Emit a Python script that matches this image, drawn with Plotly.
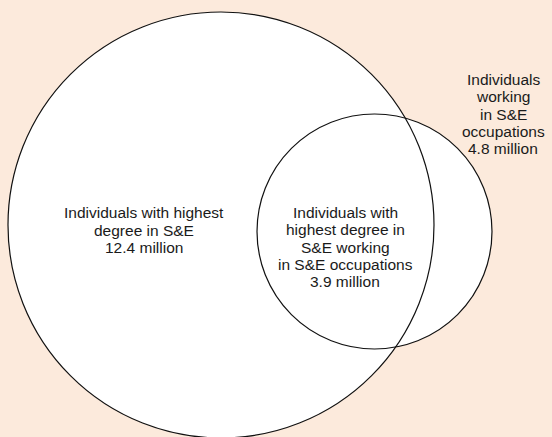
import plotly.graph_objects as go

# ---------------- data ----------------
set_names = [
    "Individuals with highest degree in S&E",
    "Individuals working in S&E occupations",
    "Individuals with highest degree in S&E working in S&E occupations",
]
set_values_million = [12.4, 4.8, 3.9]
label_text_lines = [
    ["Individuals with highest", "degree in S&E"],
    ["Individuals", "working", "in S&E", "occupations"],
    ["Individuals with", "highest degree in", "S&E working", "in S&E occupations"],
]

# ---------------- layout constants (pixels) ----------------
W, H = 552, 437
BG = "#FCEADC"
LINE = "#111111"
TEXT = "#1a1a1a"
FONT = "Liberation Sans, Arial, sans-serif"
FSIZE = 15.5
LINE_STEP = 17.4

# circle geometry: (cx, cy, r)  -> big set, small set
circles = [(221, 225, 213), (374.5, 231.5, 117.5)]
# label block centres (cx, cy)
label_centres = [(144, 230), (503, 114), (345, 247)]

fig = go.Figure()

shapes = []
# fills first
for cx, cy, r in circles:
    shapes.append(dict(type="circle", xref="x", yref="y",
                       x0=cx - r, x1=cx + r, y0=cy - r, y1=cy + r,
                       fillcolor="white", line=dict(width=0), layer="below"))
# outlines on top of fills
for cx, cy, r in circles:
    shapes.append(dict(type="circle", xref="x", yref="y",
                       x0=cx - r, x1=cx + r, y0=cy - r, y1=cy + r,
                       fillcolor="rgba(0,0,0,0)", line=dict(width=1.2, color=LINE),
                       layer="below"))

annotations = []
for lines, val, (cx, cy) in zip(label_text_lines, set_values_million, label_centres):
    all_lines = lines + [f"{val} million"]
    n = len(all_lines)
    for i, t in enumerate(all_lines):
        y = cy + (i - (n - 1) / 2) * LINE_STEP
        annotations.append(dict(x=cx, y=y, xref="x", yref="y", text=t,
                                showarrow=False, xanchor="center", yanchor="middle",
                                borderpad=0,
                                font=dict(family=FONT, size=FSIZE, color=TEXT)))

fig.update_layout(
    width=W, height=H, autosize=False,
    margin=dict(l=0, r=0, t=0, b=0, pad=0),
    paper_bgcolor=BG, plot_bgcolor=BG,
    shapes=shapes, annotations=annotations,
    showlegend=False,
    xaxis=dict(range=[0, W], visible=False, fixedrange=True),
    yaxis=dict(range=[H, 0], visible=False, fixedrange=True),
)

fig.write_html(
    "out.html",
    config={"displayModeBar": False},
    post_script="document.body.style.margin='0';document.body.style.overflow='hidden';",
)
